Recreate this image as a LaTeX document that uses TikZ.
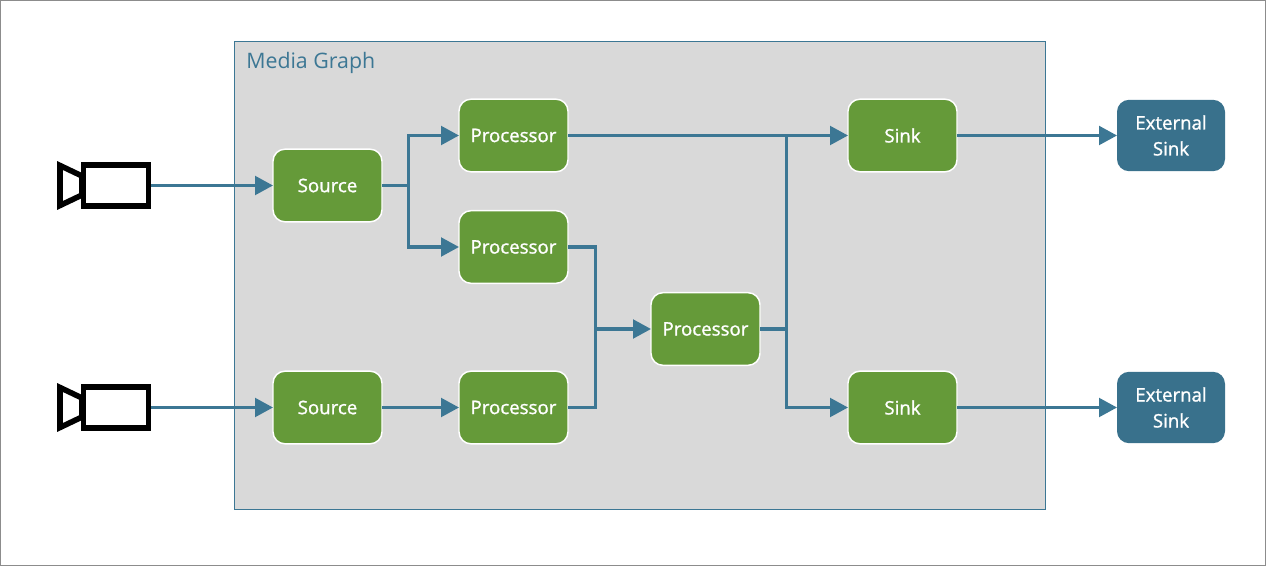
\documentclass[tikz,border=0pt]{standalone}
\usepackage{fontspec}
\setmainfont{Open Sans}
\newfontfamily\semibf{Open Sans}[FakeBold=1.2]
\usetikzlibrary{arrows.meta}
\definecolor{linkblue}{HTML}{3C7794}
\definecolor{extblue}{HTML}{39718C}
\definecolor{boxgreen}{HTML}{659A39}
\definecolor{graphgray}{HTML}{D9D9D9}
\definecolor{framegray}{HTML}{8C8C8C}
\tikzset{
  x=0.75pt,y=-0.75pt,
  greenbox/.style={draw=white,line width=1.1pt,fill=boxgreen,rounded corners=9pt,minimum width=81.75pt,minimum height=54.5pt,inner sep=0pt,outer sep=0pt,text=white,font=\semibf\fontsize{14}{17}\selectfont},
  extbox/.style={fill=extblue,rounded corners=9pt,minimum width=81pt,minimum height=53.5pt,inner sep=0pt,outer sep=0pt,text=white,align=center,font=\semibf\fontsize{14}{19.5}\selectfont},
  graphframe/.style={draw=linkblue,line width=1.1pt,fill=graphgray},
  cambody/.style={draw=black,line width=4.2pt,fill=white,minimum width=48.5pt,minimum height=31pt,inner sep=0pt,outer sep=2.1pt},
  camlens/.style={draw=black,line width=4.2pt,fill=white,miter limit=10},
  link/.style={draw=linkblue,line width=2.4pt},
  linkarrow/.style={link,-{Triangle[length=13.5pt,width=14pt]}},
}
\begin{document}
\begin{tikzpicture}
\useasboundingbox (0,0) rectangle (1266,566);
\draw[framegray,line width=0.75pt] (0.5,0.5) rectangle (1265.5,565.5);
\draw[graphframe] (234.5,41.5) rectangle (1045.5,509.5);
\node[anchor=base west,text=linkblue,inner sep=0pt,font=\fontsize{16}{19}\selectfont] (title) at (246,69) {Media Graph};

\node[cambody] (cam1) at (116,185.5) {};
\node[cambody] (cam2) at (116,407.5) {};
\draw[camlens] (60,165.5) -- (82,176) -- (82,195) -- (60,205.5) -- cycle;
\draw[camlens] (60,387.5) -- (82,398) -- (82,417) -- (60,427.5) -- cycle;

\node[greenbox] (src1) at (327.5,185.5) {Source};
\node[greenbox] (src2) at (327.5,407.5) {Source};
\node[greenbox] (p1) at (513.5,135.5) {Processor};
\node[greenbox] (p2) at (513.5,247) {Processor};
\node[greenbox] (p3) at (705.5,329) {Processor};
\node[greenbox] (p4) at (513.5,407.5) {Processor};
\node[greenbox] (sink1) at (902.5,135.5) {Sink};
\node[greenbox] (sink2) at (902.5,407.5) {Sink};
\node[extbox] (ext1) at (1171,135.5) {External\\Sink};
\node[extbox] (ext2) at (1171,407.5) {External\\Sink};

\coordinate (fork) at (408.5,185.5);
\coordinate (merge) at (595.5,329);
\coordinate (bus) at (786.5,329);

\draw[linkarrow] (cam1.east) -- (src1.west);
\draw[linkarrow] (cam2.east) -- (src2.west);
\draw[link] (src1.east) -- (fork);
\draw[linkarrow] (fork) |- (p1.west);
\draw[linkarrow] (fork) |- (p2.west);
\draw[linkarrow] (src2.east) -- (p4.west);
\draw[link] (p2.east) -| (merge);
\draw[link] (p4.east) -| (merge);
\draw[linkarrow] (merge) -- (p3.west);
\draw[linkarrow] (p1.east) -- (sink1.west);
\draw[link] (p3.east) -- (bus);
\draw[link] (bus) -- (bus |- p1.east);
\draw[linkarrow] (bus) |- (sink2.west);
\draw[linkarrow] (sink1.east) -- (ext1.west);
\draw[linkarrow] (sink2.east) -- (ext2.west);
\end{tikzpicture}
\end{document}
